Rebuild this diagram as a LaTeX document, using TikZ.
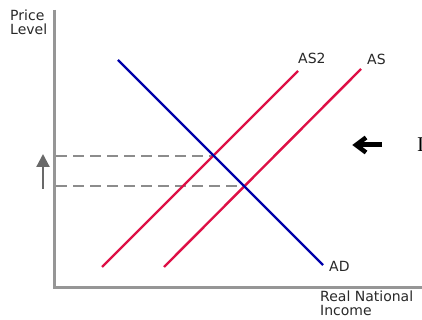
\documentclass[tikz,border=0pt]{standalone}
\usepackage{fontspec}
\setmainfont{DejaVu Sans}
\newfontfamily\serifnote{Liberation Serif}
\usetikzlibrary{arrows.meta}
\definecolor{asred}{RGB}{222,16,70}
\definecolor{adblue}{RGB}{0,0,170}
\definecolor{axgray}{RGB}{150,150,150}
\definecolor{dashgray}{RGB}{140,140,140}
\definecolor{arrgray}{RGB}{105,105,105}
\definecolor{txt}{RGB}{40,40,40}
\tikzset{
  axisline/.style={draw=axgray, line width=3pt},
  curveAS/.style={draw=asred, line width=2.4pt},
  curveAD/.style={draw=adblue, line width=2.4pt},
  guide/.style={draw=dashgray, line width=1.4pt, dash pattern=on 11pt off 6pt},
  lbl/.style={font=\fontsize{14}{13.5}\selectfont, text=txt, inner sep=0pt, align=left},
}
\begin{document}
\begin{tikzpicture}[x=1pt,y=-1pt]
\useasboundingbox (0,0) rectangle (422,320);
% axes
\coordinate (top) at (54,10);
\coordinate (origin) at (54,287);
\coordinate (right) at (424,287);
\draw[axisline] (top) -- (origin) -- (right);
% curves
\coordinate (ad1) at (118,60);
\coordinate (ad2) at (323,265);
\coordinate (as2a) at (102,267);
\coordinate (as2b) at (298,71);
\coordinate (asa) at (164,267);
\coordinate (asb) at (361,69);
\coordinate (e1) at (214,156);
\coordinate (e2) at (246,186);
\coordinate (y1) at (56,156);
\coordinate (y2) at (56,186);
\draw[guide] (y1) -- (e1);
\draw[guide] (y2) -- (e2);
\draw[curveAS] (as2a) -- (as2b);
\draw[curveAS] (asa) -- (asb);
\draw[curveAD] (ad1) -- (ad2);
% up arrow
\coordinate (ua1) at (43,189);
\coordinate (ua2) at (43,154);
\draw[draw=arrgray, line width=2.2pt, -{Triangle[length=13pt,width=13pt]}] (ua1) -- (ua2);
% left arrow
\coordinate (la1) at (382,145);
\coordinate (la2) at (357,145);
\coordinate (lh1) at (366,137.5);
\coordinate (lh0) at (356,145);
\coordinate (lh2) at (366,152.5);
\draw[black, line width=5pt] (la1) -- (la2);
\draw[black, line width=4.5pt, line join=miter] (lh1) -- (lh0) -- (lh2);
% labels
\node[lbl, anchor=north west] (pl) at (10,10) {Price\\Level};
\node[lbl, anchor=north west] (ni) at (320,291) {Real National\\Income};
\node[lbl, anchor=north west] (las2) at (298,53) {AS2};
\node[lbl, anchor=north west] (las) at (367,54) {AS};
\node[lbl, anchor=north west] (lad) at (329,261) {AD};
\node[font=\serifnote\fontsize{21}{24}\selectfont, inner sep=0pt, anchor=north west] (cut) at (417,138) {I};
\end{tikzpicture}
\end{document}
